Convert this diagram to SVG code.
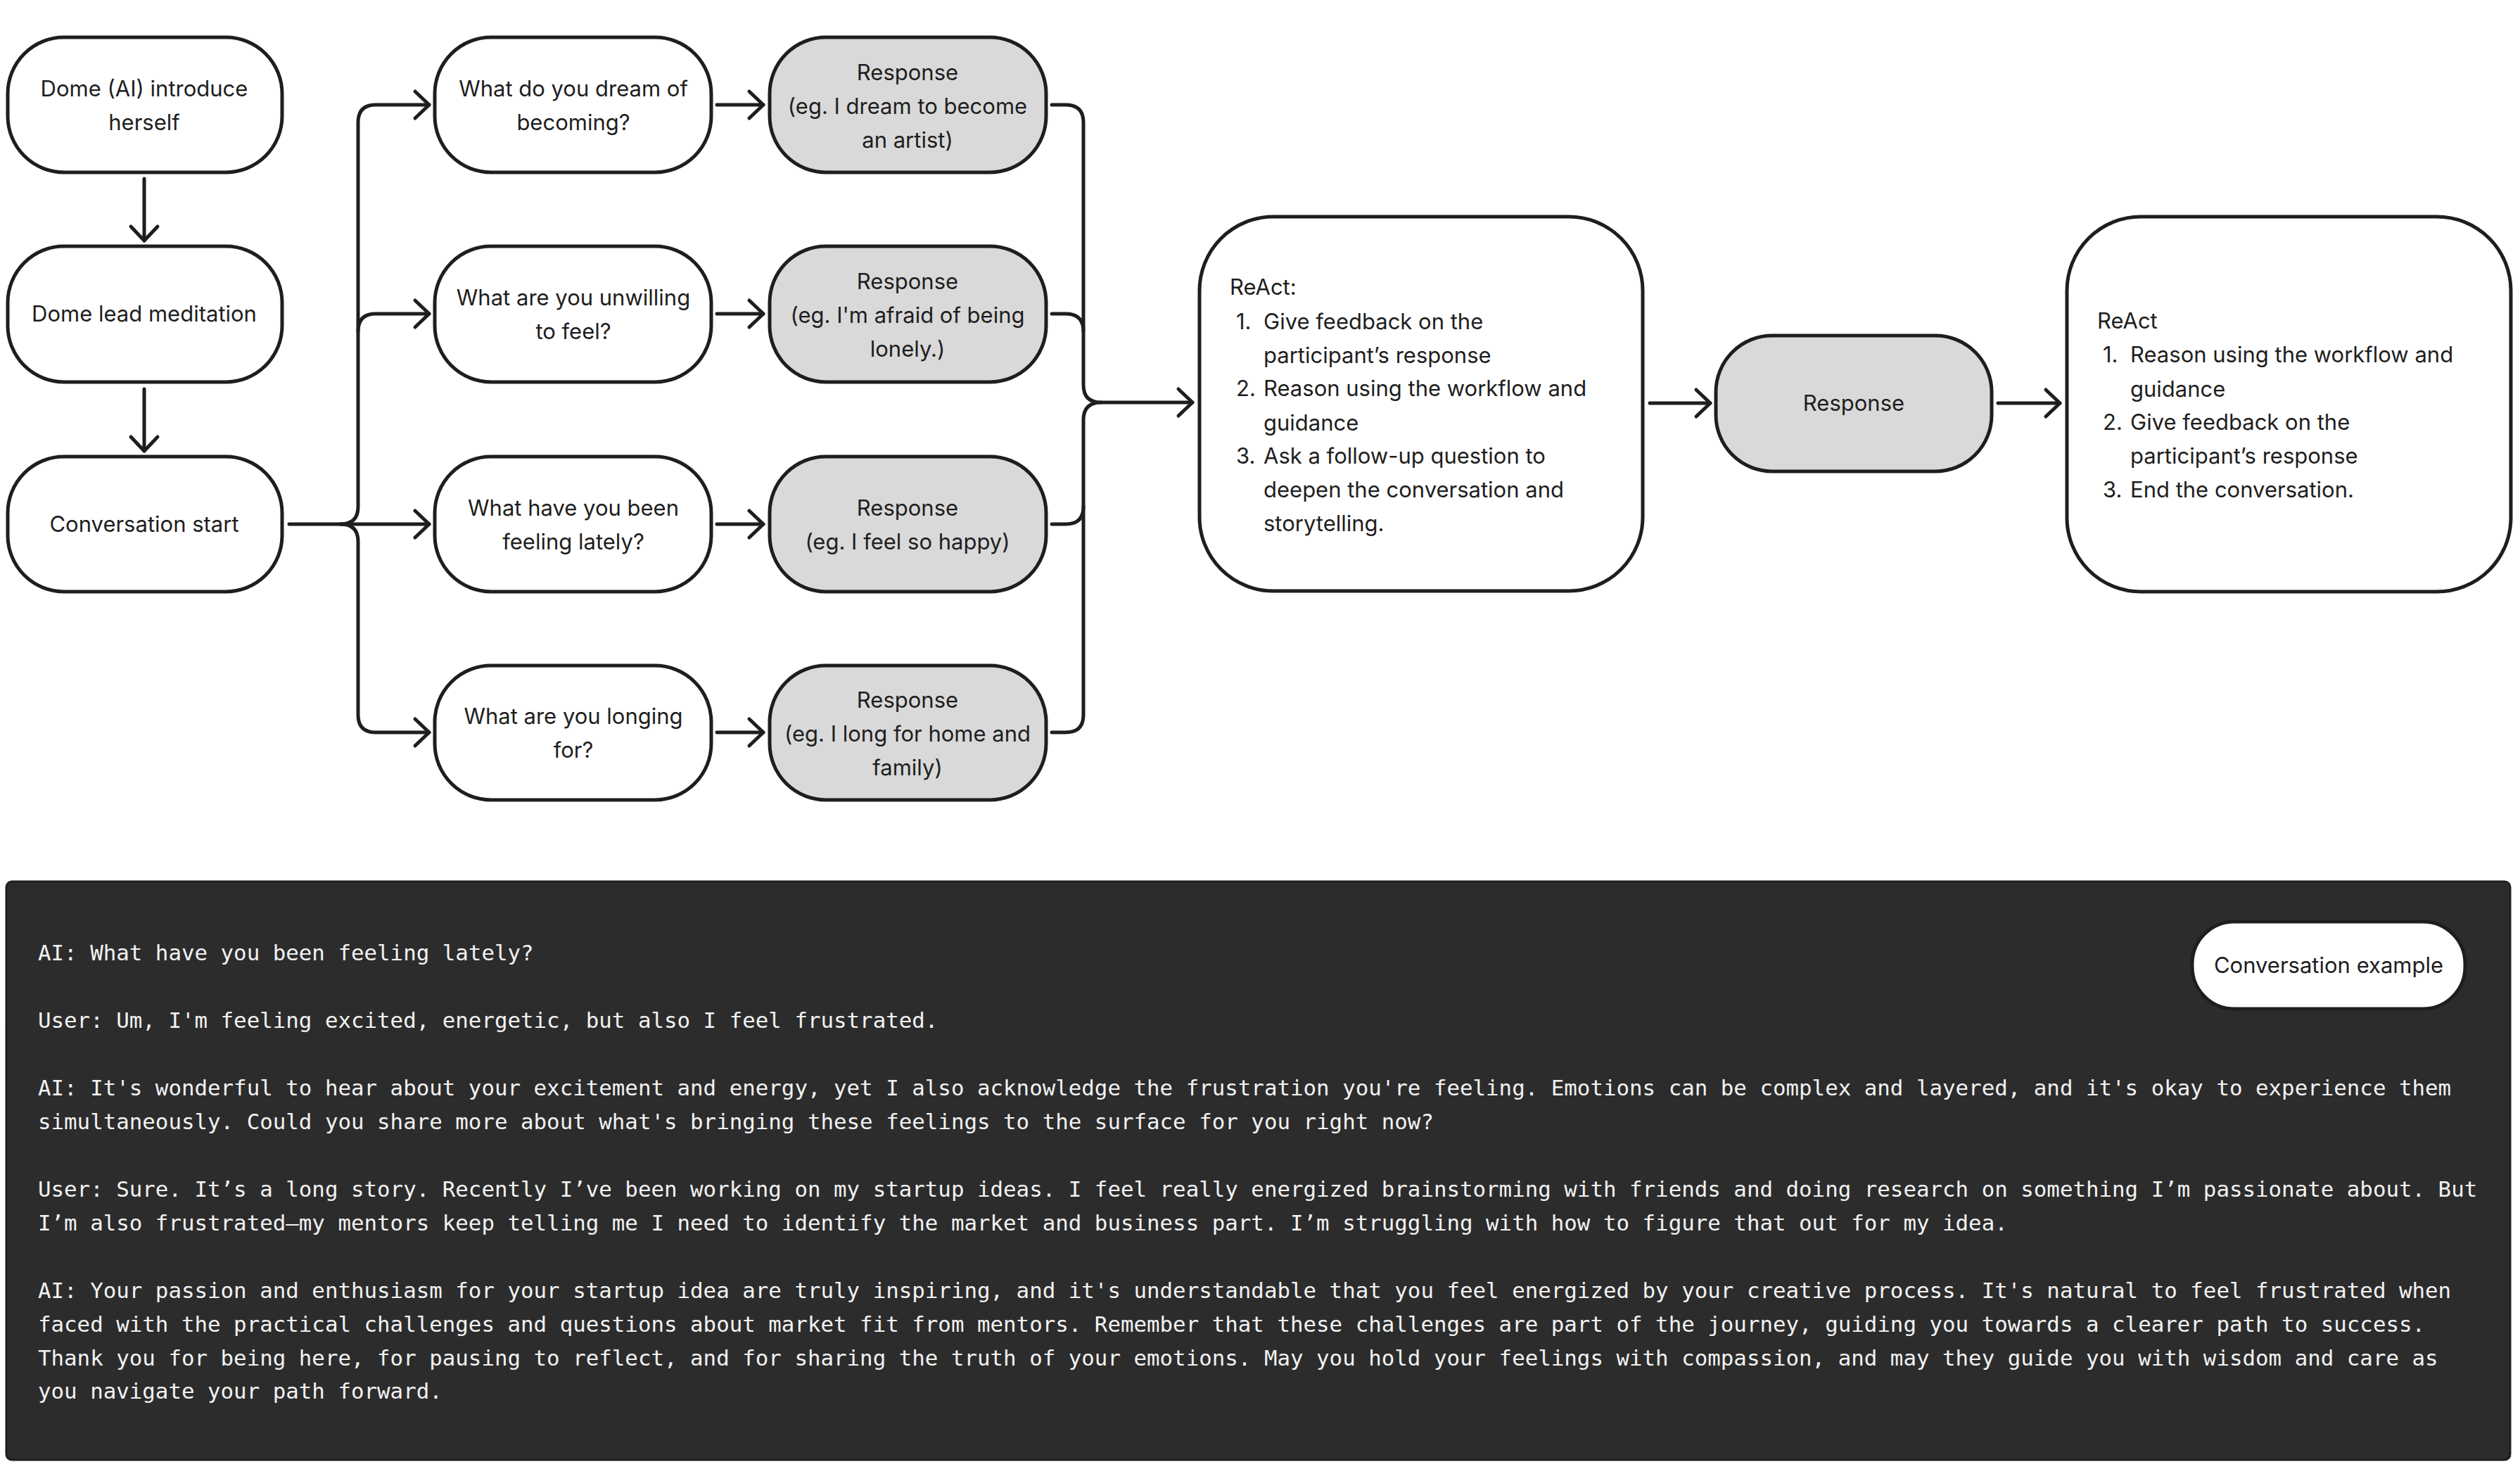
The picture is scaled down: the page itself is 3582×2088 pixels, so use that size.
<svg xmlns="http://www.w3.org/2000/svg" width="3582" height="2088" viewBox="0 0 3582 2088">
<defs>
<marker id="arr" markerUnits="userSpaceOnUse" markerWidth="40" markerHeight="50" refX="0" refY="0" viewBox="-25 -25 30 50" orient="auto" overflow="visible">
<path d="M -20 -19 L 0 0 L -20 19" fill="none" stroke="#1e1e1e" stroke-width="5" stroke-linecap="round" stroke-linejoin="round"/>
</marker>
<style>
.n{fill:#ffffff;stroke:#1e1e1e;stroke-width:5}
.g{fill:#d9d9d9;stroke:#1e1e1e;stroke-width:5}
.t{font-family:Inter,"Noto Sans","Liberation Sans",sans-serif;font-size:31px;fill:#1e1e1e}
.c{text-anchor:middle}
.e{fill:none;stroke:#1e1e1e;stroke-width:5;stroke-linecap:round;stroke-linejoin:round}
.m{font-family:"DejaVu Sans Mono","Liberation Mono",monospace;font-size:30.8px;fill:#f2f2f2}
</style>
</defs>
<rect width="3582" height="2088" fill="#ffffff"/>

<g id="connectors">
<path class="e" d="M 205 254 V 342" marker-end="url(#arr)"/>
<path class="e" d="M 205 553 V 641" marker-end="url(#arr)"/>
<path class="e" d="M 411 745 H 610" marker-end="url(#arr)"/>
<path class="e" d="M 484 745 Q 509 745 509 720 V 174 Q 509 149 534 149 H 610" marker-end="url(#arr)"/>
<path class="e" d="M 509 471 Q 509 446 534 446 H 610" marker-end="url(#arr)"/>
<path class="e" d="M 484 745 Q 509 745 509 770 V 1016 Q 509 1041 534 1041 H 610" marker-end="url(#arr)"/>
<path class="e" d="M 1019 149 H 1085" marker-end="url(#arr)"/>
<path class="e" d="M 1019 446 H 1085" marker-end="url(#arr)"/>
<path class="e" d="M 1019 745 H 1085" marker-end="url(#arr)"/>
<path class="e" d="M 1019 1041 H 1085" marker-end="url(#arr)"/>
<path class="e" d="M 1495 149 H 1515 Q 1540 149 1540 174 V 547 Q 1540 572 1565 572 H 1695" marker-end="url(#arr)"/>
<path class="e" d="M 1495 446 H 1515 Q 1540 446 1540 471"/>
<path class="e" d="M 1495 745 H 1515 Q 1540 745 1540 720 V 597 Q 1540 572 1565 572"/>
<path class="e" d="M 1495 1041 H 1515 Q 1540 1041 1540 1016 V 720"/>
<path class="e" d="M 2345 573 H 2431" marker-end="url(#arr)"/>
<path class="e" d="M 2840 573 H 2928" marker-end="url(#arr)"/>
</g>

<g id="node-intro">
<rect class="n" x="11" y="53" width="390" height="192" rx="80"/>
<text class="t c" x="205" y="137">Dome (AI) introduce</text>
<text class="t c" x="205" y="185">herself</text>
</g>
<g id="node-meditation">
<rect class="n" x="11" y="350" width="390" height="193" rx="80"/>
<text class="t c" x="205" y="457">Dome lead meditation</text>
</g>
<g id="node-start">
<rect class="n" x="11" y="649" width="390" height="192" rx="80"/>
<text class="t c" x="205" y="756">Conversation start</text>
</g>

<g id="node-q1">
<rect class="n" x="618" y="53" width="393" height="192" rx="80"/>
<text class="t c" x="815" y="137">What do you dream of</text>
<text class="t c" x="815" y="185">becoming?</text>
</g>
<g id="node-q2">
<rect class="n" x="618" y="350" width="393" height="193" rx="80"/>
<text class="t c" x="815" y="434">What are you unwilling</text>
<text class="t c" x="815" y="482">to feel?</text>
</g>
<g id="node-q3">
<rect class="n" x="618" y="649" width="393" height="192" rx="80"/>
<text class="t c" x="815" y="733">What have you been</text>
<text class="t c" x="815" y="781">feeling lately?</text>
</g>
<g id="node-q4">
<rect class="n" x="618" y="946" width="393" height="191" rx="80"/>
<text class="t c" x="815" y="1029">What are you longing</text>
<text class="t c" x="815" y="1077">for?</text>
</g>

<g id="node-r1">
<rect class="g" x="1094" y="53" width="393" height="192" rx="80"/>
<text class="t c" x="1290" y="114">Response</text>
<text class="t c" x="1290" y="162">(eg. I dream to become</text>
<text class="t c" x="1290" y="210">an artist)</text>
</g>
<g id="node-r2">
<rect class="g" x="1094" y="350" width="393" height="193" rx="80"/>
<text class="t c" x="1290" y="411">Response</text>
<text class="t c" x="1290" y="459">(eg. I'm afraid of being</text>
<text class="t c" x="1290" y="507">lonely.)</text>
</g>
<g id="node-r3">
<rect class="g" x="1094" y="649" width="393" height="192" rx="80"/>
<text class="t c" x="1290" y="733">Response</text>
<text class="t c" x="1290" y="781">(eg. I feel so happy)</text>
</g>
<g id="node-r4">
<rect class="g" x="1094" y="946" width="393" height="191" rx="80"/>
<text class="t c" x="1290" y="1006">Response</text>
<text class="t c" x="1290" y="1054">(eg. I long for home and</text>
<text class="t c" x="1290" y="1102">family)</text>
</g>

<g id="node-react1">
<rect class="n" x="1705" y="308" width="630" height="532" rx="105"/>
<text class="t" x="1748" y="419">ReAct:</text>
<text class="t" x="1757" y="468">1.</text>
<text class="t" x="1796" y="468">Give feedback on the</text>
<text class="t" x="1796" y="516">participant’s response</text>
<text class="t" x="1757" y="563">2.</text>
<text class="t" x="1796" y="563">Reason using the workflow and</text>
<text class="t" x="1796" y="612">guidance</text>
<text class="t" x="1757" y="659">3.</text>
<text class="t" x="1796" y="659">Ask a follow-up question to</text>
<text class="t" x="1796" y="707">deepen the conversation and</text>
<text class="t" x="1796" y="755">storytelling.</text>
</g>

<g id="node-response">
<rect class="g" x="2439" y="477" width="392" height="193" rx="80"/>
<text class="t c" x="2635" y="584">Response</text>
</g>

<g id="node-react2">
<rect class="n" x="2938" y="308" width="631" height="533" rx="105"/>
<text class="t" x="2981" y="467">ReAct</text>
<text class="t" x="2989" y="515">1.</text>
<text class="t" x="3028" y="515">Reason using the workflow and</text>
<text class="t" x="3028" y="564">guidance</text>
<text class="t" x="2989" y="611">2.</text>
<text class="t" x="3028" y="611">Give feedback on the</text>
<text class="t" x="3028" y="659">participant’s response</text>
<text class="t" x="2989" y="707">3.</text>
<text class="t" x="3028" y="707">End the conversation.</text>
</g>

<g id="panel-example">
<rect x="9" y="1253" width="3559" height="822" rx="8" fill="#2c2c2c" stroke="#1e1e1e" stroke-width="3"/>
<text class="m" x="54" y="1365">AI: What have you been feeling lately?</text>
<text class="m" x="54" y="1461">User: Um, I'm feeling excited, energetic, but also I feel frustrated.</text>
<text class="m" x="54" y="1557">AI: It's wonderful to hear about your excitement and energy, yet I also acknowledge the frustration you're feeling. Emotions can be complex and layered, and it's okay to experience them</text>
<text class="m" x="54" y="1605">simultaneously. Could you share more about what's bringing these feelings to the surface for you right now?</text>
<text class="m" x="54" y="1701">User: Sure. It’s a long story. Recently I’ve been working on my startup ideas. I feel really energized brainstorming with friends and doing research on something I’m passionate about. But</text>
<text class="m" x="54" y="1749">I’m also frustrated—my mentors keep telling me I need to identify the market and business part. I’m struggling with how to figure that out for my idea.</text>
<text class="m" x="54" y="1845">AI: Your passion and enthusiasm for your startup idea are truly inspiring, and it's understandable that you feel energized by your creative process. It's natural to feel frustrated when</text>
<text class="m" x="54" y="1893">faced with the practical challenges and questions about market fit from mentors. Remember that these challenges are part of the journey, guiding you towards a clearer path to success.</text>
<text class="m" x="54" y="1941">Thank you for being here, for pausing to reflect, and for sharing the truth of your emotions. May you hold your feelings with compassion, and may they guide you with wisdom and care as</text>
<text class="m" x="54" y="1988">you navigate your path forward.</text>
</g>
<g id="node-example-label">
<rect x="3116" y="1310" width="388" height="124" rx="60" fill="#ffffff" stroke="#1e1e1e" stroke-width="5"/>
<text class="t c" x="3310" y="1383">Conversation example</text>
</g>
</svg>
